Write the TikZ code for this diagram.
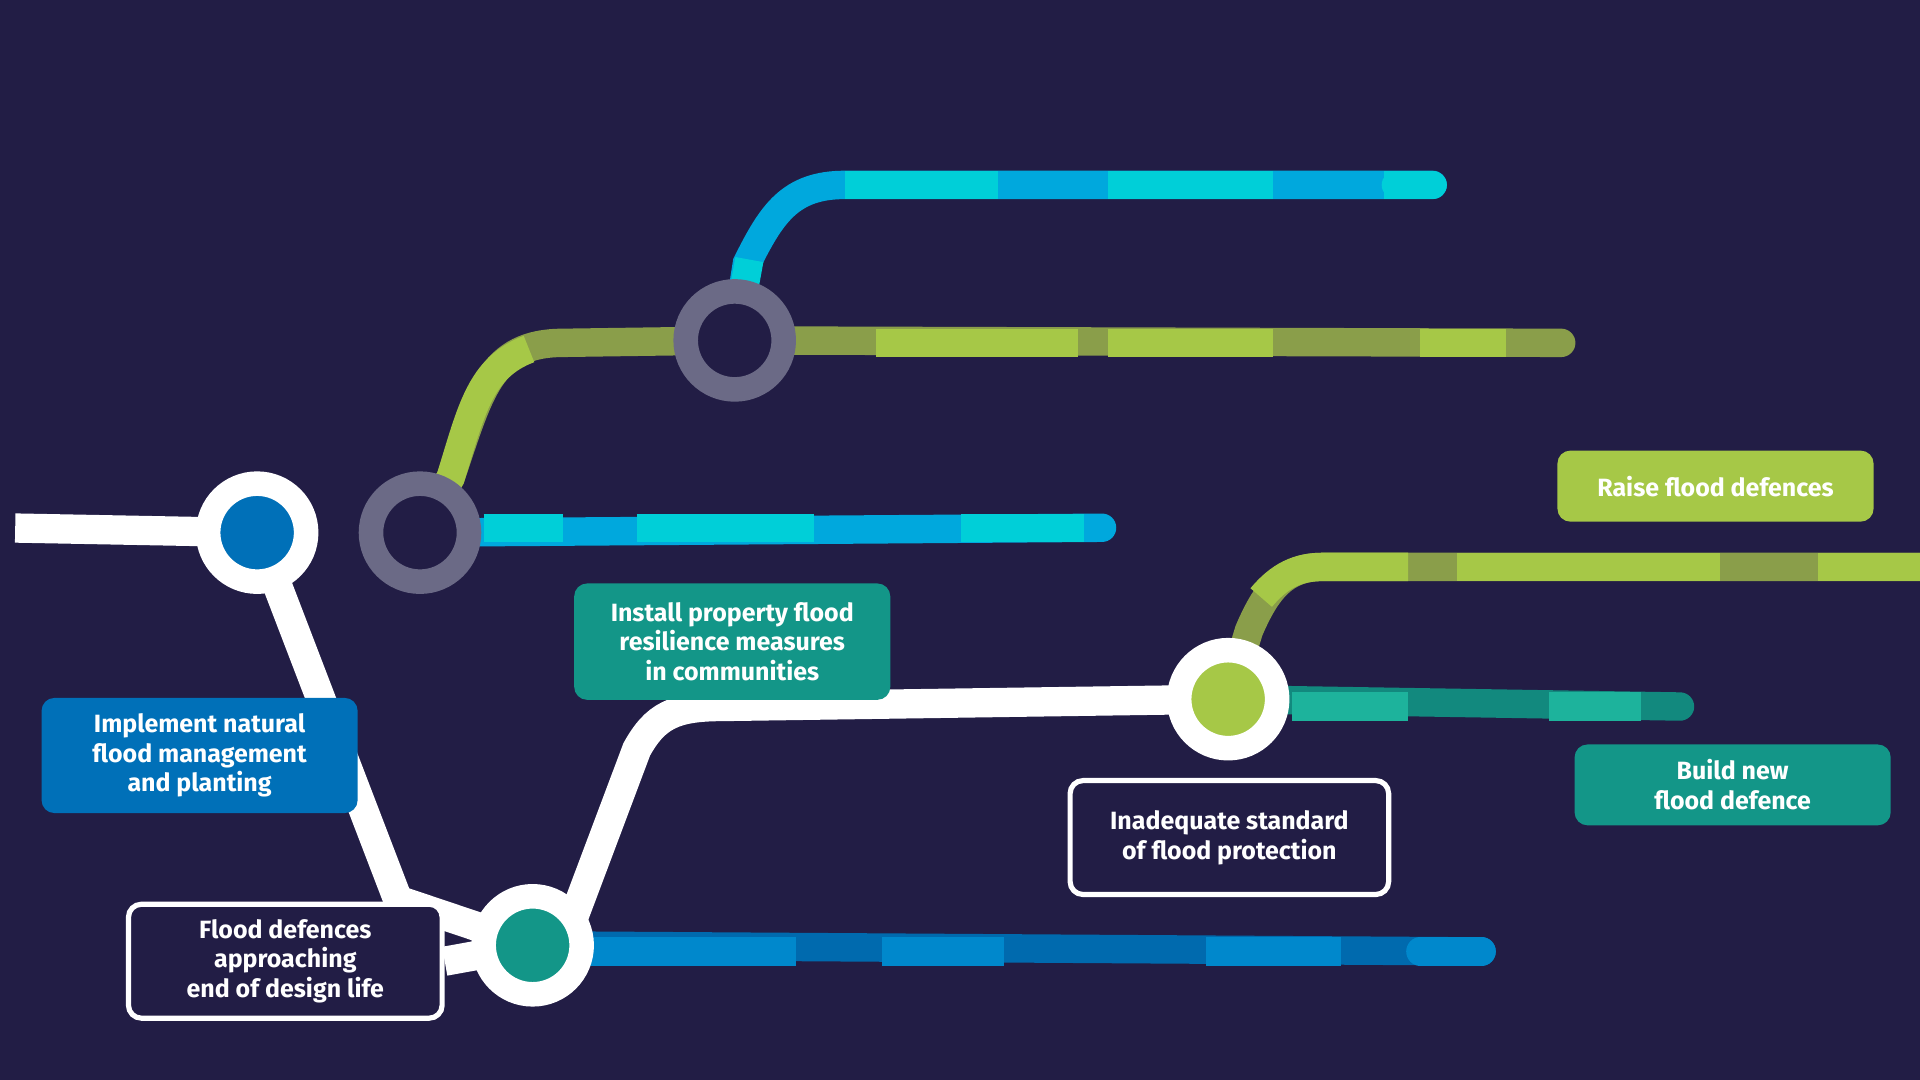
\documentclass[tikz,border=0pt]{standalone}
\usepackage{fontspec}
\setmainfont{Fira Sans}
\usetikzlibrary{positioning}
\definecolor{night}{HTML}{221D45}
\definecolor{cyanL}{HTML}{00CFD8}
\definecolor{cyanD}{HTML}{00A8DD}
\definecolor{limeL}{HTML}{A6C847}
\definecolor{limeD}{HTML}{8A9E4A}
\definecolor{blueL}{HTML}{0088CC}
\definecolor{blueD}{HTML}{006AAE}
\definecolor{tealL}{HTML}{1DB39C}
\definecolor{tealD}{HTML}{12897E}
\definecolor{boxblue}{HTML}{0070B8}
\definecolor{boxteal}{HTML}{139688}
\definecolor{ringgrey}{HTML}{6B6A86}
\pgfdeclarelayer{bg}
\pgfdeclarelayer{tracks}
\pgfsetlayers{bg,tracks,main}
\tikzset{
  track/.style={line width=6.6pt, line cap=round},
  whiteline/.style={line width=6.8pt, white},
  stop/.style={circle, draw=white, line width=5.7pt, minimum size=0.8cm, inner sep=0pt},
  ring/.style={circle, draw=ringgrey, line width=5.7pt, fill=night, minimum size=0.8cm, inner sep=0pt},
  label/.style={rounded corners=3pt, text=white, align=center, font=\bfseries\fontsize{5.8}{6.9}\selectfont, minimum width=2.58cm, inner sep=0pt},
  outcome/.style={label, draw=white, line width=1.2pt, fill=night, minimum width=2.56cm, minimum height=0.93cm}
}
\begin{document}
\begin{tikzpicture}[x=0.01cm, y=-0.01cm]
\begin{pgfonlayer}{bg}
\fill[night] (0,0) rectangle (1568,882);
\end{pgfonlayer}
\useasboundingbox (0,0) rectangle (1568,882);

% stops
\node (start) at (0,431) {};
\node (nfm) [stop, fill=boxblue] at (210,435) {};
\node (pfr) [ring] at (343,435) {};
\node (split) [ring] at (600,278) {};
\node (end) [stop, fill=boxteal] at (435,772) {};
\node (std) [stop, fill=limeL] at (1003,571) {};

% track ends
\coordinate (cyanend) at (900,431);
\coordinate (topend) at (1170,151);
\coordinate (greenend) at (1275,280);
\coordinate (blueend) at (1210,777);
\coordinate (raiseend) at (1568,463);
\coordinate (buildend) at (1372,577);

% labels
\node (nfmbox) [label, fill=boxblue, minimum height=0.94cm] at (163,617) {Implement natural\\flood management\\and planting};
\node (endbox) [outcome] at (233,785) {Flood defences\\approaching\\end of design life};
\node (pfrbox) [label, fill=boxteal, minimum height=0.95cm] at (598,524) {Install property flood\\resilience measures\\in communities};
\node (stdbox) [outcome, minimum width=2.6cm] at (1004,684) {Inadequate standard\\of flood protection};
\node (raisebox) [label, fill=limeL, minimum height=0.58cm] at (1401,397) {Raise flood defences};
\node (buildbox) [label, fill=boxteal, minimum height=0.66cm] at (1415,641) {Build new\\flood defence};

\begin{pgfonlayer}{tracks}
% white route
\draw[whiteline] (start) -- (nfm.center) -- (325,735) -- (end.center);
\draw[whiteline] (endbox.east) -- (end.center);
\draw[whiteline] (end.center) -- (470,745) -- (520,612) .. controls (535,585) and (550,577) .. (590,577) -- (std.center);
% cyan line
\draw[track, cyanD] (pfr.center) -- (cyanend);
\foreach \a/\b in {395/460, 520/665, 785/885}
  \draw[line width=6.6pt, cyanL] (\a,431) -- (\b,431);
% green line
\draw[track, limeD] (pfr.center) -- (368,390) .. controls (392,320) and (400,280) .. (460,280) -- (split.center) -- (greenend);
\draw[line width=6.6pt, limeL] (pfr.center) -- (368,390) .. controls (385,335) and (392,300) .. (432,285);
\foreach \a/\b in {715/880, 905/1040, 1160/1230}
  \draw[line width=6.6pt, limeL] (\a,280) -- (\b,280);
% top line
\draw[track, cyanD] (split.center) -- (610,215) .. controls (630,175) and (645,151) .. (690,151) -- (topend);
\draw[line width=6.6pt, cyanL] (split.center) -- (612,212);
\foreach \a/\b in {690/815, 905/1040, 1130/1170}
  \draw[line width=6.6pt, cyanL] (\a,151) -- (\b,151);
\draw[track, cyanL] (1140,151) -- (topend);
% blue line
\draw[track, blueD] (end.center) -- (blueend);
\foreach \a/\b in {480/650, 720/820, 985/1095}
  \draw[line width=6.6pt, blueL] (\a,777) -- (\b,777);
\draw[track, blueL] (1160,777) -- (blueend);
% raise line
\draw[track, limeD] (std.center) -- (1020,515) .. controls (1035,480) and (1050,463) .. (1080,463) -- (raiseend);
\draw[line width=6.6pt, limeL] (1030,488) .. controls (1045,470) and (1060,463) .. (1080,463) -- (1150,463);
\foreach \a/\b in {1190/1405, 1485/1568}
  \draw[line width=6.6pt, limeL] (\a,463) -- (\b,463);
% build line
\draw[track, tealD] (std.center) -- (buildend);
\foreach \a/\b in {1055/1150, 1265/1340}
  \draw[line width=6.6pt, tealL] (\a,577) -- (\b,577);
\end{pgfonlayer}
\end{tikzpicture}
\end{document}
